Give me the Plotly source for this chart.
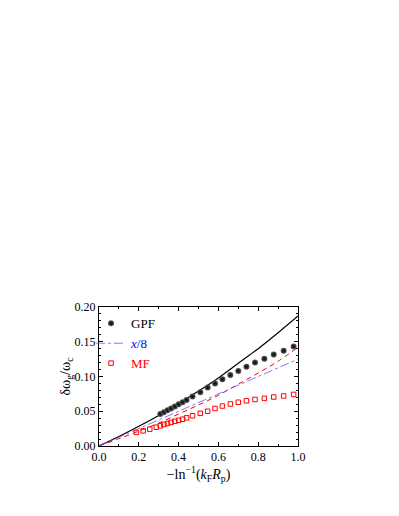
import plotly.graph_objects as go

# GPF points (black spheres)
gpf_x = [0.308, 0.326, 0.344, 0.362, 0.381, 0.400, 0.420, 0.440, 0.470, 0.509,
         0.546, 0.583, 0.620, 0.660, 0.700, 0.741, 0.784, 0.831, 0.878, 0.928, 0.978]
gpf_y = [0.046, 0.0487, 0.0514, 0.0541, 0.0570, 0.0599, 0.0630, 0.0662, 0.0712, 0.0775,
         0.084, 0.090, 0.096, 0.102, 0.108, 0.114, 0.120, 0.1255, 0.1315, 0.137, 0.143]

# MF points (red open squares)
mf_x = [0.188, 0.222, 0.255, 0.288, 0.308, 0.326, 0.344, 0.362, 0.381, 0.400, 0.420,
        0.440, 0.470, 0.509, 0.546, 0.583, 0.620, 0.660, 0.700, 0.741, 0.784, 0.831,
        0.878, 0.928, 0.978]
mf_y = [0.0195, 0.0218, 0.0242, 0.0270, 0.029, 0.031, 0.0325, 0.034, 0.0355, 0.037, 0.0385,
        0.0405, 0.0435, 0.047, 0.050, 0.054, 0.0575, 0.0605, 0.063, 0.065, 0.067, 0.0685,
        0.0705, 0.072, 0.0742]

# curves
curve_x = [0.0, 0.1, 0.2, 0.3, 0.4, 0.5, 0.6, 0.7, 0.8, 0.9, 1.0]
black_y = [0.0, 0.0136, 0.0283, 0.044, 0.061, 0.079, 0.098, 0.119, 0.140, 0.163, 0.187]
red_y = [0.0, 0.0105, 0.0215, 0.033, 0.046, 0.059, 0.073, 0.089, 0.105, 0.122, 0.142]
blue_x = [0.0, 1.0]
blue_y = [0.0, 0.125]

serif = "Liberation Serif, Times New Roman, DejaVu Serif, serif"

fig = go.Figure()
fig.add_trace(go.Scatter(x=curve_x, y=black_y, mode="lines", line=dict(color="black", width=1.2, shape="spline"),
                         showlegend=False))
fig.add_trace(go.Scatter(x=curve_x, y=red_y, mode="lines", line=dict(color="red", width=1, dash="5px,4px", shape="spline"),
                         showlegend=False))
fig.add_trace(go.Scatter(x=gpf_x, y=gpf_y, mode="markers", name="<span style='color:black'>GPF</span>",
                         marker=dict(symbol="circle", size=6, color="#5a5a5a",
                                     gradient=dict(type="radial", color="black"))))
fig.add_trace(go.Scatter(x=blue_x, y=blue_y, mode="lines", name="<span style='color:blue'><i>x</i>/8</span>",
                         line=dict(color="#5a5aff", width=0.8, dash="dashdot")))
fig.add_trace(go.Scatter(x=mf_x, y=mf_y, mode="markers", name="<span style='color:red'>MF</span>",
                         marker=dict(symbol="square-open", size=4.5, color="red", line=dict(width=1))))

axis_common = dict(showline=True, linecolor="black", linewidth=1, mirror="allticks", ticks="inside",
                   ticklen=4, tickcolor="black", showgrid=False, zeroline=False, automargin=False,
                   tickfont=dict(family=serif, size=12, color="black"))
fig.update_xaxes(range=[0, 1], tick0=0, dtick=0.2, tickformat=".1f",
                 minor=dict(ticks="inside", ticklen=2, dtick=0.1, tickcolor="black"),
                 title=dict(text="−ln<sup>−1</sup>(<i>k</i><sub>F</sub><i>R</i><sub>p</sub>)",
                            font=dict(family=serif, size=14, color="black"), standoff=4),
                 **axis_common)
fig.update_yaxes(range=[0, 0.2], tick0=0, dtick=0.05, tickformat=".2f",
                 minor=dict(ticks="inside", ticklen=2, dtick=0.01, tickcolor="black"),
                 title=dict(text="δω<sub>g</sub>/ω<sub>c</sub>",
                            font=dict(family=serif, size=14, color="black"), standoff=0),
                 **axis_common)

# the page body has an 8px margin, so the figure is drawn 8px in
fig.update_layout(width=391, height=508, margin=dict(l=91, r=101, t=299, b=70),
                  plot_bgcolor="white", paper_bgcolor="white", font=dict(family=serif),
                  legend=dict(x=-0.04, y=0.99, xanchor="left", yanchor="top", bgcolor="rgba(0,0,0,0)",
                              font=dict(family=serif, size=13), tracegroupgap=0, itemwidth=30))

fig.write_html("out.html")
